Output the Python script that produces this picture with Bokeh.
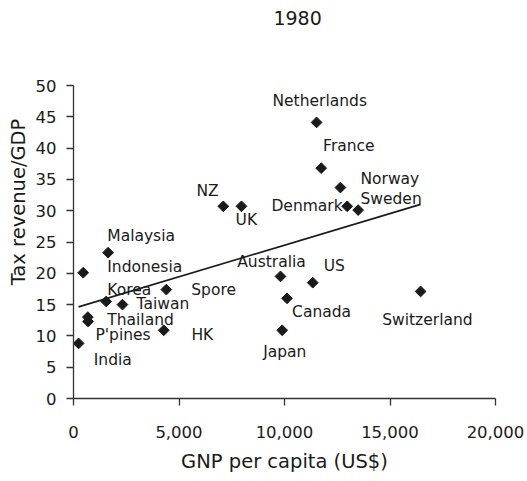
import numpy as np
from bokeh.plotting import figure
from bokeh.models import ColumnDataSource, FixedTicker, NumeralTickFormatter, Range1d
from bokeh.core.properties import value
from bokeh.embed import file_html
from bokeh.resources import INLINE

# ---- data ----
countries = ["India", "Thailand", "P'pines", "Indonesia", "Malaysia", "Korea", "Taiwan",
             "Spore", "HK", "NZ", "UK", "Australia", "Japan", "Canada", "US",
             "Netherlands", "France", "Norway", "Denmark", "Sweden", "Switzerland"]
gnp = [240, 680, 690, 460, 1640, 1550, 2320,
       4400, 4280, 7100, 7960, 9810, 9890, 10120, 11340,
       11520, 11740, 12650, 12970, 13490, 16450]
tax = [8.8, 13.0, 12.3, 20.1, 23.3, 15.5, 15.0,
       17.4, 10.9, 30.7, 30.7, 19.5, 10.9, 16.0, 18.5,
       44.1, 36.8, 33.7, 30.7, 30.1, 17.1]
# label anchor positions (left edge, vertical middle) in data units
label_x = [960, 1600, 1040, 1600, 1600, 1600, 2990,
           5580, 5590, 5830, 7680, 7760, 8990, 10360, 11860,
           9430, 11830, 13600, 9380, 13600, 14630]
label_y = [6.2, 12.6, 10.2, 21.0, 26.0, 17.3, 15.1,
           17.3, 10.2, 33.2, 28.5, 21.8, 7.4, 13.8, 21.1,
           47.5, 40.3, 35.0, 30.7, 31.9, 12.6]
x_ticks = [0, 5000, 10000, 15000, 20000]
y_ticks = [0, 5, 10, 15, 20, 25, 30, 35, 40, 45, 50]
title_text = "1980"
title_pos = (10620, 60.8)
x_title = "GNP per capita (US$)"
y_title = "Tax revenue/GDP"

FONT = "DejaVu Sans"
INK = "#1a1a1a"

# frame from y=5px to y=398px; axis drawn only for 0..50
p = figure(width=527, height=481, output_backend="svg", toolbar_location=None,
           x_range=Range1d(0, 20000), y_range=Range1d(0, 50 * 393 / 313),
           min_border_left=73, min_border_right=32, min_border_top=5, min_border_bottom=83)
p.outline_line_color = None
p.grid.visible = False
p.background_fill_color = "white"
p.border_fill_color = "white"

src = ColumnDataSource(dict(x=gnp, y=tax, name=countries, lx=label_x, ly=label_y))

# trend line (OLS fit of the data)
b, a = np.polyfit(np.array(gnp, float), np.array(tax, float), 1)
xs = np.array([min(gnp), max(gnp)], float)
p.line(xs, a + b * xs, line_color=INK, line_width=1.6)

p.scatter("x", "y", source=src, marker="square", size=7.6, angle=np.pi / 4,
          fill_color=INK, line_color=INK)

p.text("lx", "ly", text="name", source=src, text_align="left", text_baseline="middle",
       text_font=value(FONT), text_font_size="15.5px", text_color=INK)

# chart title
p.text(x=[title_pos[0]], y=[title_pos[1]], text=[title_text], text_align="center",
       text_baseline="middle", text_font=value(FONT), text_font_size="19px", text_color=INK)

for ax in (p.xaxis[0], p.yaxis[0]):
    ax.axis_line_color = "#333333"
    ax.axis_line_width = 1.3
    ax.major_tick_line_color = "#333333"
    ax.major_tick_line_width = 1.3
    ax.major_tick_in = 0
    ax.major_tick_out = 7
    ax.minor_tick_line_color = None
    ax.major_label_text_font = FONT
    ax.major_label_text_font_size = "16.5px"
    ax.major_label_text_color = INK
    ax.axis_label_text_font = FONT
    ax.axis_label_text_font_size = "19.5px"
    ax.axis_label_text_font_style = "normal"
    ax.axis_label_text_color = INK

p.xaxis.ticker = FixedTicker(ticks=x_ticks)
p.xaxis.formatter = NumeralTickFormatter(format="0,0")
p.yaxis.ticker = FixedTicker(ticks=y_ticks)
p.yaxis.bounds = (0, 50)
p.xaxis.axis_label = x_title
p.yaxis.axis_label = y_title
p.xaxis.major_label_standoff = 20
p.xaxis.axis_label_standoff = 9
p.yaxis.major_label_standoff = 10
p.yaxis.axis_label_standoff = 3

open("out.html", "w").write(file_html(p, INLINE))
